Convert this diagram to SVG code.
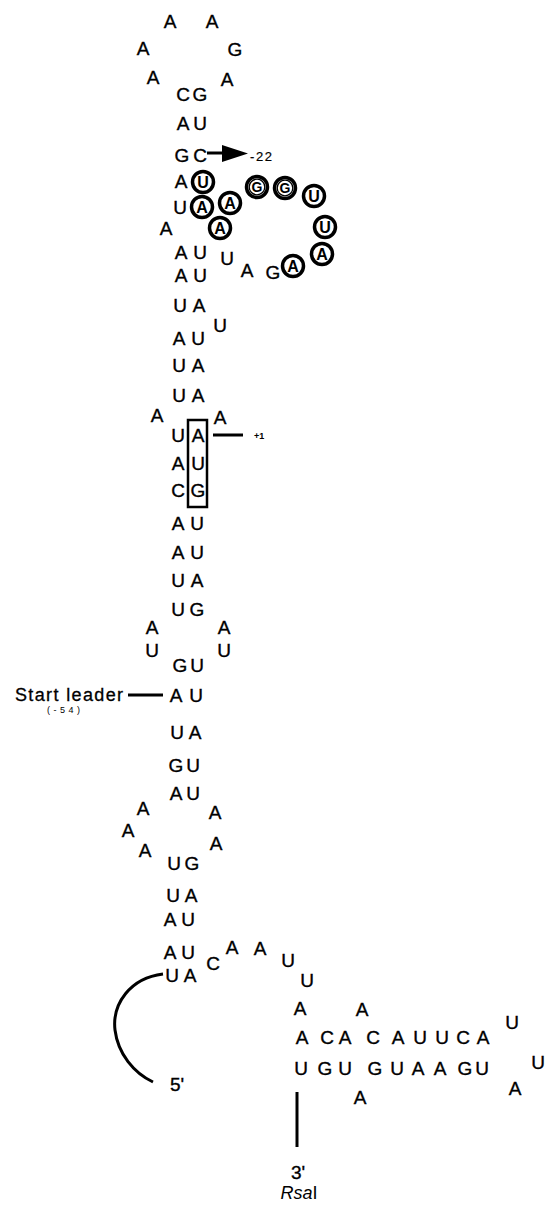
<svg xmlns="http://www.w3.org/2000/svg" width="547" height="1207" viewBox="0 0 547 1207">
  <style>
    text { font-family: "Liberation Sans", Arial, sans-serif; fill: #000; }
    .n { font-size: 19px; text-anchor: middle; stroke: #000; stroke-width: 0.35; }
    .c { font-size: 16px; font-weight: bold; text-anchor: middle; }
    .cg { font-size: 14px; font-weight: bold; text-anchor: middle; }
    .ring { fill: none; stroke: #000; stroke-width: 3.5; }
    .ring2 { fill: none; stroke: #000; stroke-width: 1.3; }
    .ln { fill: none; stroke: #000; stroke-width: 3; stroke-linecap: butt; }
  </style>
  <rect width="547" height="1207" fill="#fff"/>

  <!-- terminal hairpin loop -->
  <g id="top-loop">
    <text class="n" x="170" y="28">A</text>
    <text class="n" x="212" y="28">A</text>
    <text class="n" x="143" y="55">A</text>
    <text class="n" x="235" y="56">G</text>
    <text class="n" x="153" y="84">A</text>
    <text class="n" x="227" y="86">A</text>
  </g>

  <!-- upper stem -->
  <g id="stem-upper">
    <text class="n" x="183" y="100.5">C</text><text class="n" x="200" y="100.5">G</text>
    <text class="n" x="183" y="129.5">A</text><text class="n" x="200" y="129.5">U</text>
    <text class="n" x="182" y="161.5">G</text><text class="n" x="200" y="161.5">C</text>
    <text class="n" x="181" y="188">A</text>
    <text class="n" x="180" y="214">U</text>
    <text class="n" x="181" y="258.5">A</text><text class="n" x="200" y="258.5">U</text>
    <text class="n" x="181" y="281.5">A</text><text class="n" x="200" y="281.5">U</text>
    <text class="n" x="180" y="311.5">U</text><text class="n" x="199" y="311.5">A</text>
    <text class="n" x="179" y="344.5">A</text><text class="n" x="198" y="344.5">U</text>
    <text class="n" x="179" y="371.5">U</text><text class="n" x="198" y="371.5">A</text>
    <text class="n" x="179" y="401.5">U</text><text class="n" x="198" y="401.5">A</text>
  </g>

  <!-- bulges beside the upper stem -->
  <g id="upper-bulges">
    <text class="n" x="166" y="234.5">A</text>
    <text class="n" x="227" y="264.5">U</text>
    <text class="n" x="247" y="276.5">A</text>
    <text class="n" x="273" y="278.5">G</text>
    <text class="n" x="220" y="331.5">U</text>
  </g>

  <!-- circled nucleotides -->
  <g id="circled">
    <circle class="ring" cx="203" cy="182" r="10.5"/><text class="c" x="203" y="187.8">U</text>
    <circle class="ring" cx="202" cy="207" r="10.5"/><text class="c" x="202" y="212.8">A</text>
    <circle class="ring" cx="230" cy="203" r="10.5"/><text class="c" x="230" y="208.8">A</text>
    <circle class="ring" cx="220" cy="228" r="10.5"/><text class="c" x="220" y="233.8">A</text>
    <circle class="ring" cx="257" cy="187" r="10.5"/><circle class="ring2" cx="257" cy="187" r="7.8"/><text class="cg" x="257" y="192">G</text>
    <circle class="ring" cx="285" cy="188" r="10.5"/><circle class="ring2" cx="285" cy="188" r="7.8"/><text class="cg" x="285" y="193">G</text>
    <circle class="ring" cx="314" cy="196" r="10.5"/><text class="c" x="314" y="201.8">U</text>
    <circle class="ring" cx="325" cy="227" r="10.5"/><text class="c" x="325" y="232.8">U</text>
    <circle class="ring" cx="322" cy="254" r="10.5"/><text class="c" x="322" y="259.8">A</text>
    <circle class="ring" cx="293" cy="266" r="10.5"/><text class="c" x="293" y="271.8">A</text>
  </g>

  <!-- start codon region -->
  <g id="start-codon">
    <text class="n" x="157" y="422">A</text>
    <text class="n" x="220" y="424">A</text>
    <text class="n" x="178" y="441.5">U</text><text class="n" x="198" y="441.5">A</text>
    <text class="n" x="178" y="469.5">A</text><text class="n" x="198" y="469.5">U</text>
    <text class="n" x="178" y="496.5">C</text><text class="n" x="198" y="496.5">G</text>
    <rect x="188" y="420" width="19" height="87" fill="none" stroke="#000" stroke-width="2.5"/>
  </g>

  <!-- middle stem and internal loop -->
  <g id="stem-middle">
    <text class="n" x="178" y="529.5">A</text><text class="n" x="197" y="529.5">U</text>
    <text class="n" x="178" y="558.5">A</text><text class="n" x="197" y="558.5">U</text>
    <text class="n" x="178" y="586.5">U</text><text class="n" x="197" y="586.5">A</text>
    <text class="n" x="178" y="615.5">U</text><text class="n" x="197" y="615.5">G</text>
    <text class="n" x="152" y="633.5">A</text><text class="n" x="152" y="656.5">U</text>
    <text class="n" x="224" y="633.5">A</text><text class="n" x="224" y="656.5">U</text>
    <text class="n" x="180" y="671.5">G</text><text class="n" x="197" y="671.5">U</text>
    <text class="n" x="176" y="701.5">A</text><text class="n" x="196" y="701.5">U</text>
    <text class="n" x="177" y="738.5">U</text><text class="n" x="195" y="738.5">A</text>
    <text class="n" x="176" y="771.5">G</text><text class="n" x="193" y="771.5">U</text>
    <text class="n" x="176" y="799.5">A</text><text class="n" x="193" y="799.5">U</text>
  </g>

  <!-- lower internal loop -->
  <g id="lower-loop">
    <text class="n" x="143" y="814.5">A</text>
    <text class="n" x="128" y="836.5">A</text>
    <text class="n" x="145" y="856.5">A</text>
    <text class="n" x="215" y="818.5">A</text>
    <text class="n" x="216" y="849.5">A</text>
  </g>

  <!-- lower stem -->
  <g id="stem-lower">
    <text class="n" x="174" y="869.5">U</text><text class="n" x="192" y="869.5">G</text>
    <text class="n" x="173" y="901.5">U</text><text class="n" x="191" y="901.5">A</text>
    <text class="n" x="170" y="925.5">A</text><text class="n" x="188" y="925.5">U</text>
    <text class="n" x="170" y="958.5">A</text><text class="n" x="188" y="958.5">U</text>
    <text class="n" x="172" y="981.5">U</text><text class="n" x="190" y="981.5">A</text>
  </g>

  <!-- linker to the 3' hairpin -->
  <g id="linker">
    <text class="n" x="213" y="969.5">C</text>
    <text class="n" x="232" y="953.5">A</text>
    <text class="n" x="260" y="954.5">A</text>
    <text class="n" x="288" y="966.5">U</text>
    <text class="n" x="307" y="986.5">U</text>
    <text class="n" x="300" y="1014.5">A</text>
  </g>

  <!-- 3' hairpin -->
  <g id="hairpin-3">
    <text class="n" x="362" y="1015.5">A</text>
    <text class="n" x="302" y="1043.5">A</text><text class="n" x="327" y="1043.5">C</text><text class="n" x="345" y="1043.5">A</text>
    <text class="n" x="373" y="1043.5">C</text><text class="n" x="398" y="1043.5">A</text><text class="n" x="420" y="1043.5">U</text>
    <text class="n" x="442" y="1043.5">U</text><text class="n" x="463" y="1043.5">C</text><text class="n" x="483" y="1043.5">A</text>
    <text class="n" x="512" y="1028.5">U</text>
    <text class="n" x="538" y="1068.5">U</text>
    <text class="n" x="515" y="1094.5">A</text>
    <text class="n" x="301" y="1074.5">U</text><text class="n" x="325" y="1074.5">G</text><text class="n" x="345" y="1074.5">U</text>
    <text class="n" x="375" y="1074.5">G</text><text class="n" x="397" y="1074.5">U</text><text class="n" x="418" y="1074.5">A</text>
    <text class="n" x="440" y="1074.5">A</text><text class="n" x="465" y="1074.5">G</text><text class="n" x="482" y="1074.5">U</text>
    <text class="n" x="360" y="1103.5">A</text>
  </g>

  <!-- labels -->
  <g id="labels">
    <text x="250" y="161" font-size="13" textLength="22" lengthAdjust="spacing" stroke="#000" stroke-width="0.2">-22</text>
    <text x="254" y="438.5" font-size="9" font-weight="bold">+1</text>
    <text x="15" y="701" font-size="18" textLength="108" lengthAdjust="spacing" stroke="#000" stroke-width="0.3">Start leader</text>
    <text x="47" y="713" font-size="9" textLength="33" lengthAdjust="spacing">(-54)</text>
    <text x="170" y="1091" font-size="19" stroke="#000" stroke-width="0.35">5'</text>
    <text class="n" x="298" y="1179">3'</text>
    <text x="299" y="1199" font-size="18" text-anchor="middle"><tspan font-style="italic">Rsa</tspan>I</text>
  </g>

  <!-- connectors -->
  <g id="connectors">
    <line class="ln" x1="207" y1="153" x2="224" y2="153"/>
    <polygon points="222,145 248,153.5 222,162" fill="#000"/>
    <line class="ln" x1="213" y1="435" x2="243" y2="435" stroke-width="3.5"/>
    <line class="ln" x1="128" y1="695" x2="163" y2="695" stroke-width="2.5"/>
    <path class="ln" d="M163,974 C130,978 112,1004 115,1030 C118,1054 134,1073 153,1082"/>
    <line class="ln" x1="297" y1="1092" x2="297" y2="1147"/>
  </g>
</svg>
